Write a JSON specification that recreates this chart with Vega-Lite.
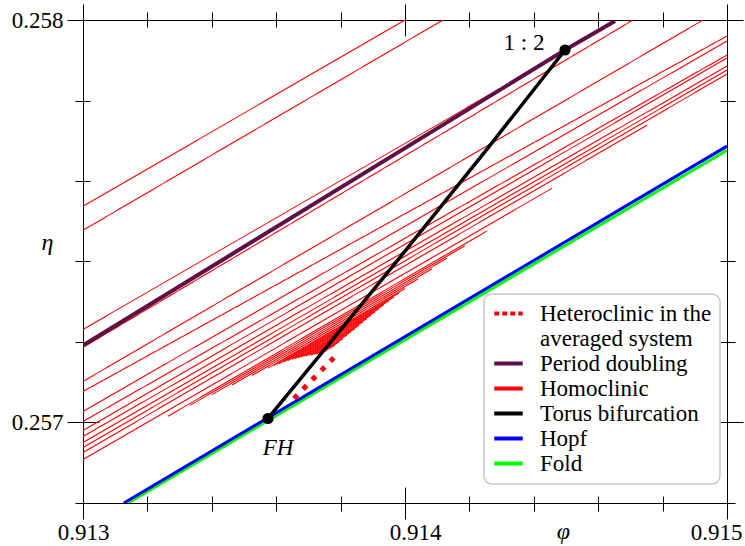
{
  "$schema": "https://vega.github.io/schema/vega-lite/v6.json",
  "width": 644,
  "height": 483,
  "autosize": {"type": "none"},
  "padding": {"left": 83, "top": 20, "right": 18, "bottom": 43},
  "background": "white",
  "config": {
    "font": "'Liberation Serif', 'Times New Roman', 'DejaVu Serif', serif",
    "view": {"stroke": "#000000", "strokeWidth": 1},
    "axis": {
      "domain": false,
      "grid": false,
      "tickColor": "#000000",
      "tickWidth": 1,
      "labelFont": "'Liberation Serif', 'Times New Roman', 'DejaVu Serif', serif",
      "labelFontSize": 23,
      "labelColor": "#000000",
      "labelFlush": false,
      "labelOverlap": false,
      "titleFont": "'Liberation Serif', 'Times New Roman', 'DejaVu Serif', serif",
      "titleFontSize": 24,
      "titleFontWeight": "normal",
      "titleFontStyle": "italic",
      "titleColor": "#000000"
    },
    "legend": {"strokeWidth": 1.5}
  },
  "datasets": {
    "curves": [
      {"series": "Homoclinic", "id": "h1", "phi": 0.913, "eta": 0.2575373},
      {"series": "Homoclinic", "id": "h1", "phi": 0.914, "eta": 0.258},
      {"series": "Homoclinic", "id": "h2", "phi": 0.913, "eta": 0.2574776},
      {"series": "Homoclinic", "id": "h2", "phi": 0.914118, "eta": 0.258},
      {"series": "Homoclinic", "id": "h3", "phi": 0.913, "eta": 0.2572313},
      {"series": "Homoclinic", "id": "h3", "phi": 0.9144969, "eta": 0.2579229},
      {"series": "Homoclinic", "id": "h4", "phi": 0.913, "eta": 0.2571866},
      {"series": "Homoclinic", "id": "h4", "phi": 0.9147081, "eta": 0.258},
      {"series": "Homoclinic", "id": "h5", "phi": 0.913, "eta": 0.257102},
      {"series": "Homoclinic", "id": "h5", "phi": 0.9149255, "eta": 0.258},
      {"series": "Homoclinic", "id": "h6", "phi": 0.913, "eta": 0.2570771},
      {"series": "Homoclinic", "id": "h6", "phi": 0.915, "eta": 0.2579602},
      {"series": "Homoclinic", "id": "h7", "phi": 0.913, "eta": 0.2570274},
      {"series": "Homoclinic", "id": "h7", "phi": 0.915, "eta": 0.2579478},
      {"series": "Homoclinic", "id": "h8", "phi": 0.913, "eta": 0.2570025},
      {"series": "Homoclinic", "id": "h8", "phi": 0.915, "eta": 0.2579129},
      {"series": "Homoclinic", "id": "h9", "phi": 0.913, "eta": 0.2569801},
      {"series": "Homoclinic", "id": "h9", "phi": 0.915, "eta": 0.2579055},
      {"series": "Homoclinic", "id": "h10", "phi": 0.913, "eta": 0.2569652},
      {"series": "Homoclinic", "id": "h10", "phi": 0.915, "eta": 0.2578856},
      {"series": "Homoclinic", "id": "h11", "phi": 0.913, "eta": 0.2569502},
      {"series": "Homoclinic", "id": "h11", "phi": 0.915, "eta": 0.2578756},
      {"series": "Homoclinic", "id": "h12", "phi": 0.913, "eta": 0.2569378},
      {"series": "Homoclinic", "id": "h12", "phi": 0.915, "eta": 0.2578657},
      {"series": "Homoclinic", "id": "h13", "phi": 0.913, "eta": 0.2569254},
      {"series": "Homoclinic", "id": "h13", "phi": 0.9147516, "eta": 0.2577388},
      {"series": "Homoclinic", "id": "h14", "phi": 0.913, "eta": 0.256908},
      {"series": "Homoclinic", "id": "h14", "phi": 0.9144565, "eta": 0.2575821},
      {"series": "Homoclinic", "id": "f1", "phi": 0.913264, "eta": 0.2570157},
      {"series": "Homoclinic", "id": "f1", "phi": 0.9142547, "eta": 0.2574759},
      {"series": "Homoclinic", "id": "f2", "phi": 0.9133323, "eta": 0.2570425},
      {"series": "Homoclinic", "id": "f2", "phi": 0.9141863, "eta": 0.2574393},
      {"series": "Homoclinic", "id": "f3", "phi": 0.9134006, "eta": 0.2570692},
      {"series": "Homoclinic", "id": "f3", "phi": 0.9141304, "eta": 0.2574082},
      {"series": "Homoclinic", "id": "f4", "phi": 0.9134627, "eta": 0.257093},
      {"series": "Homoclinic", "id": "f4", "phi": 0.9140839, "eta": 0.2573816},
      {"series": "Homoclinic", "id": "f5", "phi": 0.9135248, "eta": 0.2571169},
      {"series": "Homoclinic", "id": "f5", "phi": 0.9140404, "eta": 0.2573565},
      {"series": "Homoclinic", "id": "f6", "phi": 0.9135745, "eta": 0.2571351},
      {"series": "Homoclinic", "id": "f6", "phi": 0.914, "eta": 0.2573328},
      {"series": "Homoclinic", "id": "f7", "phi": 0.9135932, "eta": 0.2571413},
      {"series": "Homoclinic", "id": "f7", "phi": 0.9139814, "eta": 0.2573216},
      {"series": "Homoclinic", "id": "f8", "phi": 0.9136087, "eta": 0.257146},
      {"series": "Homoclinic", "id": "f8", "phi": 0.9139658, "eta": 0.2573119},
      {"series": "Homoclinic", "id": "f9", "phi": 0.9136242, "eta": 0.2571507},
      {"series": "Homoclinic", "id": "f9", "phi": 0.9139503, "eta": 0.2573022},
      {"series": "Homoclinic", "id": "f10", "phi": 0.9136366, "eta": 0.257154},
      {"series": "Homoclinic", "id": "f10", "phi": 0.9139348, "eta": 0.2572925},
      {"series": "Homoclinic", "id": "f11", "phi": 0.9136491, "eta": 0.2571572},
      {"series": "Homoclinic", "id": "f11", "phi": 0.9139193, "eta": 0.2572828},
      {"series": "Homoclinic", "id": "f12", "phi": 0.9136584, "eta": 0.2571592},
      {"series": "Homoclinic", "id": "f12", "phi": 0.9139068, "eta": 0.2572746},
      {"series": "Homoclinic", "id": "f13", "phi": 0.9136677, "eta": 0.2571609},
      {"series": "Homoclinic", "id": "f13", "phi": 0.9138944, "eta": 0.2572662},
      {"series": "Homoclinic", "id": "f14", "phi": 0.913677, "eta": 0.2571627},
      {"series": "Homoclinic", "id": "f14", "phi": 0.913882, "eta": 0.257258},
      {"series": "Homoclinic", "id": "f15", "phi": 0.9136863, "eta": 0.2571647},
      {"series": "Homoclinic", "id": "f15", "phi": 0.9138696, "eta": 0.2572498},
      {"series": "Homoclinic", "id": "f16", "phi": 0.9136925, "eta": 0.2571649},
      {"series": "Homoclinic", "id": "f16", "phi": 0.9138571, "eta": 0.2572415},
      {"series": "Homoclinic", "id": "f17", "phi": 0.9137019, "eta": 0.2571669},
      {"series": "Homoclinic", "id": "f17", "phi": 0.9138447, "eta": 0.2572333},
      {"series": "Homoclinic", "id": "f18", "phi": 0.9137081, "eta": 0.2571672},
      {"series": "Homoclinic", "id": "f18", "phi": 0.9138323, "eta": 0.2572249},
      {"series": "Homoclinic", "id": "f19", "phi": 0.9137174, "eta": 0.2571692},
      {"series": "Homoclinic", "id": "f19", "phi": 0.9138199, "eta": 0.2572167},
      {"series": "Homoclinic", "id": "f20", "phi": 0.9137236, "eta": 0.2571694},
      {"series": "Homoclinic", "id": "f20", "phi": 0.9138075, "eta": 0.2572085},
      {"series": "Homoclinic", "id": "f21", "phi": 0.9137329, "eta": 0.2571714},
      {"series": "Homoclinic", "id": "f21", "phi": 0.913795, "eta": 0.2572002},
      {"series": "Homoclinic", "id": "f22", "phi": 0.9137391, "eta": 0.2571716},
      {"series": "Homoclinic", "id": "f22", "phi": 0.9137826, "eta": 0.257192},
      {"series": "Period doubling", "id": "pd", "phi": 0.913, "eta": 0.2571915},
      {"series": "Period doubling", "id": "pd", "phi": 0.9144969, "eta": 0.2579254},
      {"series": "Period doubling", "id": "pd", "phi": 0.9146522, "eta": 0.2579975},
      {"series": "Fold", "id": "fold", "phi": 0.9131398, "eta": 0.2568},
      {"series": "Fold", "id": "fold", "phi": 0.915, "eta": 0.2576766},
      {"series": "Hopf", "id": "hopf", "phi": 0.913127, "eta": 0.2568},
      {"series": "Hopf", "id": "hopf", "phi": 0.915, "eta": 0.2576866},
      {"series": "Heteroclinic in the", "id": "het", "phi": 0.9136553, "eta": 0.2570597},
      {"series": "Heteroclinic in the", "id": "het", "phi": 0.9137888, "eta": 0.2571692},
      {"series": "Torus bifurcation", "id": "tor", "phi": 0.9135745, "eta": 0.25701},
      {"series": "Torus bifurcation", "id": "tor", "phi": 0.9136739, "eta": 0.257107},
      {"series": "Torus bifurcation", "id": "tor", "phi": 0.9139845, "eta": 0.2574104},
      {"series": "Torus bifurcation", "id": "tor", "phi": 0.9142547, "eta": 0.2576791},
      {"series": "Torus bifurcation", "id": "tor", "phi": 0.9144969, "eta": 0.2579254}
    ],
    "points": [
      {"label": "FH", "phi": 0.9135745, "eta": 0.25701},
      {"label": "1 : 2", "phi": 0.9144969, "eta": 0.2579254}
    ]
  },
  "data": {"name": "curves"},
  "resolve": {"axis": {"x": "independent", "y": "independent"}},
  "layer": [
    {
      "transform": [{"filter": "datum.series === 'Homoclinic'"}],
      "mark": {"type": "line", "strokeWidth": 1.1, "clip": true},
      "encoding": {
        "x": {
          "field": "phi", "type": "quantitative",
          "scale": {"domain": [0.913, 0.915], "nice": false, "zero": false},
          "axis": {
            "orient": "bottom", "values": [0.913, 0.914, 0.915], "format": ".3f",
            "offset": -16, "tickSize": 32, "labelPadding": 2,
            "labelOffset": {"expr": "datum.value > 0.9145 ? -11 : (datum.value > 0.9135 ? 10 : 0)"},
            "title": "φ", "titleX": 480, "titleY": 44, "titleBaseline": "middle", "titleAlign": "center"
          }
        },
        "y": {
          "field": "eta", "type": "quantitative",
          "scale": {"domain": [0.2568, 0.258], "nice": false, "zero": false},
          "axis": {
            "orient": "left", "values": [0.257, 0.258], "format": ".3f",
            "offset": -16, "tickSize": 32, "labelPadding": 4,
            "title": "η", "titleAngle": 0, "titleX": -52, "titleY": 222, "titleBaseline": "middle", "titleAlign": "center"
          }
        },
        "detail": {"field": "id"},
        "color": {
          "field": "series", "type": "nominal",
          "scale": {
            "domain": ["Heteroclinic in the", "averaged system", "Period doubling", "Homoclinic", "Torus bifurcation", "Hopf", "Fold"],
            "range": ["#ff0000", "rgba(0,0,0,0)", "#5e1046", "#ff0000", "#000000", "#0000ff", "#00ff00"]
          },
          "legend": {
            "title": null, "orient": "none", "legendX": 401, "legendY": 274,
            "symbolType": "M-1.5,0H1.5", "symbolSize": 361, "symbolStrokeWidth": 4, "symbolOffset": 5,
            "labelFont": "'Liberation Serif', 'Times New Roman', 'DejaVu Serif', serif", "labelFontSize": 23, "labelColor": "#000000", "labelOffset": 20, "labelLimit": 400,
            "rowPadding": 1, "padding": 8, "strokeColor": "#c8c8c8", "fillColor": "#ffffff", "cornerRadius": 8
          }
        },
        "strokeDash": {
          "field": "series", "type": "nominal",
          "scale": {
            "domain": ["Heteroclinic in the", "averaged system", "Period doubling", "Homoclinic", "Torus bifurcation", "Hopf", "Fold"],
            "range": [[5, 3], [1, 0], [1, 0], [1, 0], [1, 0], [1, 0], [1, 0]]
          },
          "legend": {
            "title": null, "orient": "none", "legendX": 401, "legendY": 274,
            "symbolType": "M-1.5,0H1.5", "symbolSize": 361, "symbolStrokeWidth": 4, "symbolOffset": 5,
            "labelFont": "'Liberation Serif', 'Times New Roman', 'DejaVu Serif', serif", "labelFontSize": 23, "labelColor": "#000000", "labelOffset": 20, "labelLimit": 400,
            "rowPadding": 1, "padding": 8, "strokeColor": "#c8c8c8", "fillColor": "#ffffff", "cornerRadius": 8
          }
        }
      }
    },
    {
      "transform": [{"filter": "datum.series === 'Period doubling'"}],
      "mark": {"type": "line", "strokeWidth": 4, "clip": true},
      "encoding": {
        "x": {
          "field": "phi", "type": "quantitative",
          "scale": {"domain": [0.913, 0.915], "nice": false, "zero": false},
          "axis": {"orient": "bottom", "values": [0.9132, 0.9134, 0.9136, 0.9138, 0.9142, 0.9144, 0.9146, 0.9148], "offset": -7, "tickSize": 15, "labels": false, "title": null}
        },
        "y": {
          "field": "eta", "type": "quantitative",
          "scale": {"domain": [0.2568, 0.258], "nice": false, "zero": false},
          "axis": {"orient": "left", "values": [0.2568, 0.2572, 0.2574, 0.2576, 0.2578], "offset": -7, "tickSize": 15, "labels": false, "title": null}
        },
        "color": {
          "field": "series", "type": "nominal",
          "scale": {
            "domain": ["Heteroclinic in the", "averaged system", "Period doubling", "Homoclinic", "Torus bifurcation", "Hopf", "Fold"],
            "range": ["#ff0000", "rgba(0,0,0,0)", "#5e1046", "#ff0000", "#000000", "#0000ff", "#00ff00"]
          }
        }
      }
    },
    {
      "transform": [{"filter": "datum.series === 'Fold'"}],
      "mark": {"type": "line", "strokeWidth": 3, "clip": true},
      "encoding": {
        "x": {
          "field": "phi", "type": "quantitative",
          "scale": {"domain": [0.913, 0.915], "nice": false, "zero": false},
          "axis": {"orient": "top", "values": [0.913, 0.914, 0.915], "offset": -16, "tickSize": 32, "labels": false, "title": null}
        },
        "y": {
          "field": "eta", "type": "quantitative",
          "scale": {"domain": [0.2568, 0.258], "nice": false, "zero": false},
          "axis": {"orient": "right", "values": [0.257, 0.258], "offset": -16, "tickSize": 32, "labels": false, "title": null}
        },
        "color": {
          "field": "series", "type": "nominal",
          "scale": {
            "domain": ["Heteroclinic in the", "averaged system", "Period doubling", "Homoclinic", "Torus bifurcation", "Hopf", "Fold"],
            "range": ["#ff0000", "rgba(0,0,0,0)", "#5e1046", "#ff0000", "#000000", "#0000ff", "#00ff00"]
          }
        }
      }
    },
    {
      "transform": [{"filter": "datum.series === 'Hopf'"}],
      "mark": {"type": "line", "strokeWidth": 3, "clip": true},
      "encoding": {
        "x": {
          "field": "phi", "type": "quantitative",
          "scale": {"domain": [0.913, 0.915], "nice": false, "zero": false},
          "axis": {"orient": "top", "values": [0.9132, 0.9134, 0.9136, 0.9138, 0.9142, 0.9144, 0.9146, 0.9148], "offset": -7, "tickSize": 15, "labels": false, "title": null}
        },
        "y": {
          "field": "eta", "type": "quantitative",
          "scale": {"domain": [0.2568, 0.258], "nice": false, "zero": false},
          "axis": {"orient": "right", "values": [0.2568, 0.2572, 0.2574, 0.2576, 0.2578], "offset": -7, "tickSize": 15, "labels": false, "title": null}
        },
        "color": {
          "field": "series", "type": "nominal",
          "scale": {
            "domain": ["Heteroclinic in the", "averaged system", "Period doubling", "Homoclinic", "Torus bifurcation", "Hopf", "Fold"],
            "range": ["#ff0000", "rgba(0,0,0,0)", "#5e1046", "#ff0000", "#000000", "#0000ff", "#00ff00"]
          }
        }
      }
    },
    {
      "transform": [{"filter": "datum.series === 'Heteroclinic in the'"}],
      "mark": {"type": "line", "strokeWidth": 5, "strokeDash": [5, 8], "strokeCap": "butt", "clip": true},
      "encoding": {
        "x": {"field": "phi", "type": "quantitative", "scale": {"domain": [0.913, 0.915], "nice": false, "zero": false}, "axis": null},
        "y": {"field": "eta", "type": "quantitative", "scale": {"domain": [0.2568, 0.258], "nice": false, "zero": false}, "axis": null},
        "color": {
          "field": "series", "type": "nominal",
          "scale": {
            "domain": ["Heteroclinic in the", "averaged system", "Period doubling", "Homoclinic", "Torus bifurcation", "Hopf", "Fold"],
            "range": ["#ff0000", "rgba(0,0,0,0)", "#5e1046", "#ff0000", "#000000", "#0000ff", "#00ff00"]
          }
        }
      }
    },
    {
      "transform": [{"filter": "datum.series === 'Torus bifurcation'"}],
      "mark": {"type": "line", "strokeWidth": 3.5, "clip": true},
      "encoding": {
        "x": {"field": "phi", "type": "quantitative", "scale": {"domain": [0.913, 0.915], "nice": false, "zero": false}, "axis": null},
        "y": {"field": "eta", "type": "quantitative", "scale": {"domain": [0.2568, 0.258], "nice": false, "zero": false}, "axis": null},
        "color": {
          "field": "series", "type": "nominal",
          "scale": {
            "domain": ["Heteroclinic in the", "averaged system", "Period doubling", "Homoclinic", "Torus bifurcation", "Hopf", "Fold"],
            "range": ["#ff0000", "rgba(0,0,0,0)", "#5e1046", "#ff0000", "#000000", "#0000ff", "#00ff00"]
          }
        }
      }
    },
    {
      "data": {"name": "points"},
      "mark": {"type": "circle", "size": 125, "color": "#000000", "opacity": 1},
      "encoding": {
        "x": {"field": "phi", "type": "quantitative", "scale": {"domain": [0.913, 0.915], "nice": false, "zero": false}, "axis": null},
        "y": {"field": "eta", "type": "quantitative", "scale": {"domain": [0.2568, 0.258], "nice": false, "zero": false}, "axis": null}
      }
    },
    {
      "data": {"name": "points"},
      "transform": [{"filter": "datum.label === '1 : 2'"}],
      "mark": {"type": "text", "dx": -41, "dy": -7, "align": "center", "baseline": "middle", "font": "'Liberation Serif', 'Times New Roman', 'DejaVu Serif', serif", "fontSize": 23, "color": "#000000"},
      "encoding": {
        "x": {"field": "phi", "type": "quantitative", "scale": {"domain": [0.913, 0.915], "nice": false, "zero": false}, "axis": null},
        "y": {"field": "eta", "type": "quantitative", "scale": {"domain": [0.2568, 0.258], "nice": false, "zero": false}, "axis": null},
        "text": {"field": "label"}
      }
    },
    {
      "data": {"name": "points"},
      "transform": [{"filter": "datum.label === 'FH'"}],
      "mark": {"type": "text", "dx": 10, "dy": 30, "align": "center", "baseline": "middle", "font": "'Liberation Serif', 'Times New Roman', 'DejaVu Serif', serif", "fontStyle": "italic", "fontSize": 23, "color": "#000000"},
      "encoding": {
        "x": {"field": "phi", "type": "quantitative", "scale": {"domain": [0.913, 0.915], "nice": false, "zero": false}, "axis": null},
        "y": {"field": "eta", "type": "quantitative", "scale": {"domain": [0.2568, 0.258], "nice": false, "zero": false}, "axis": null},
        "text": {"field": "label"}
      }
    }
  ]
}
